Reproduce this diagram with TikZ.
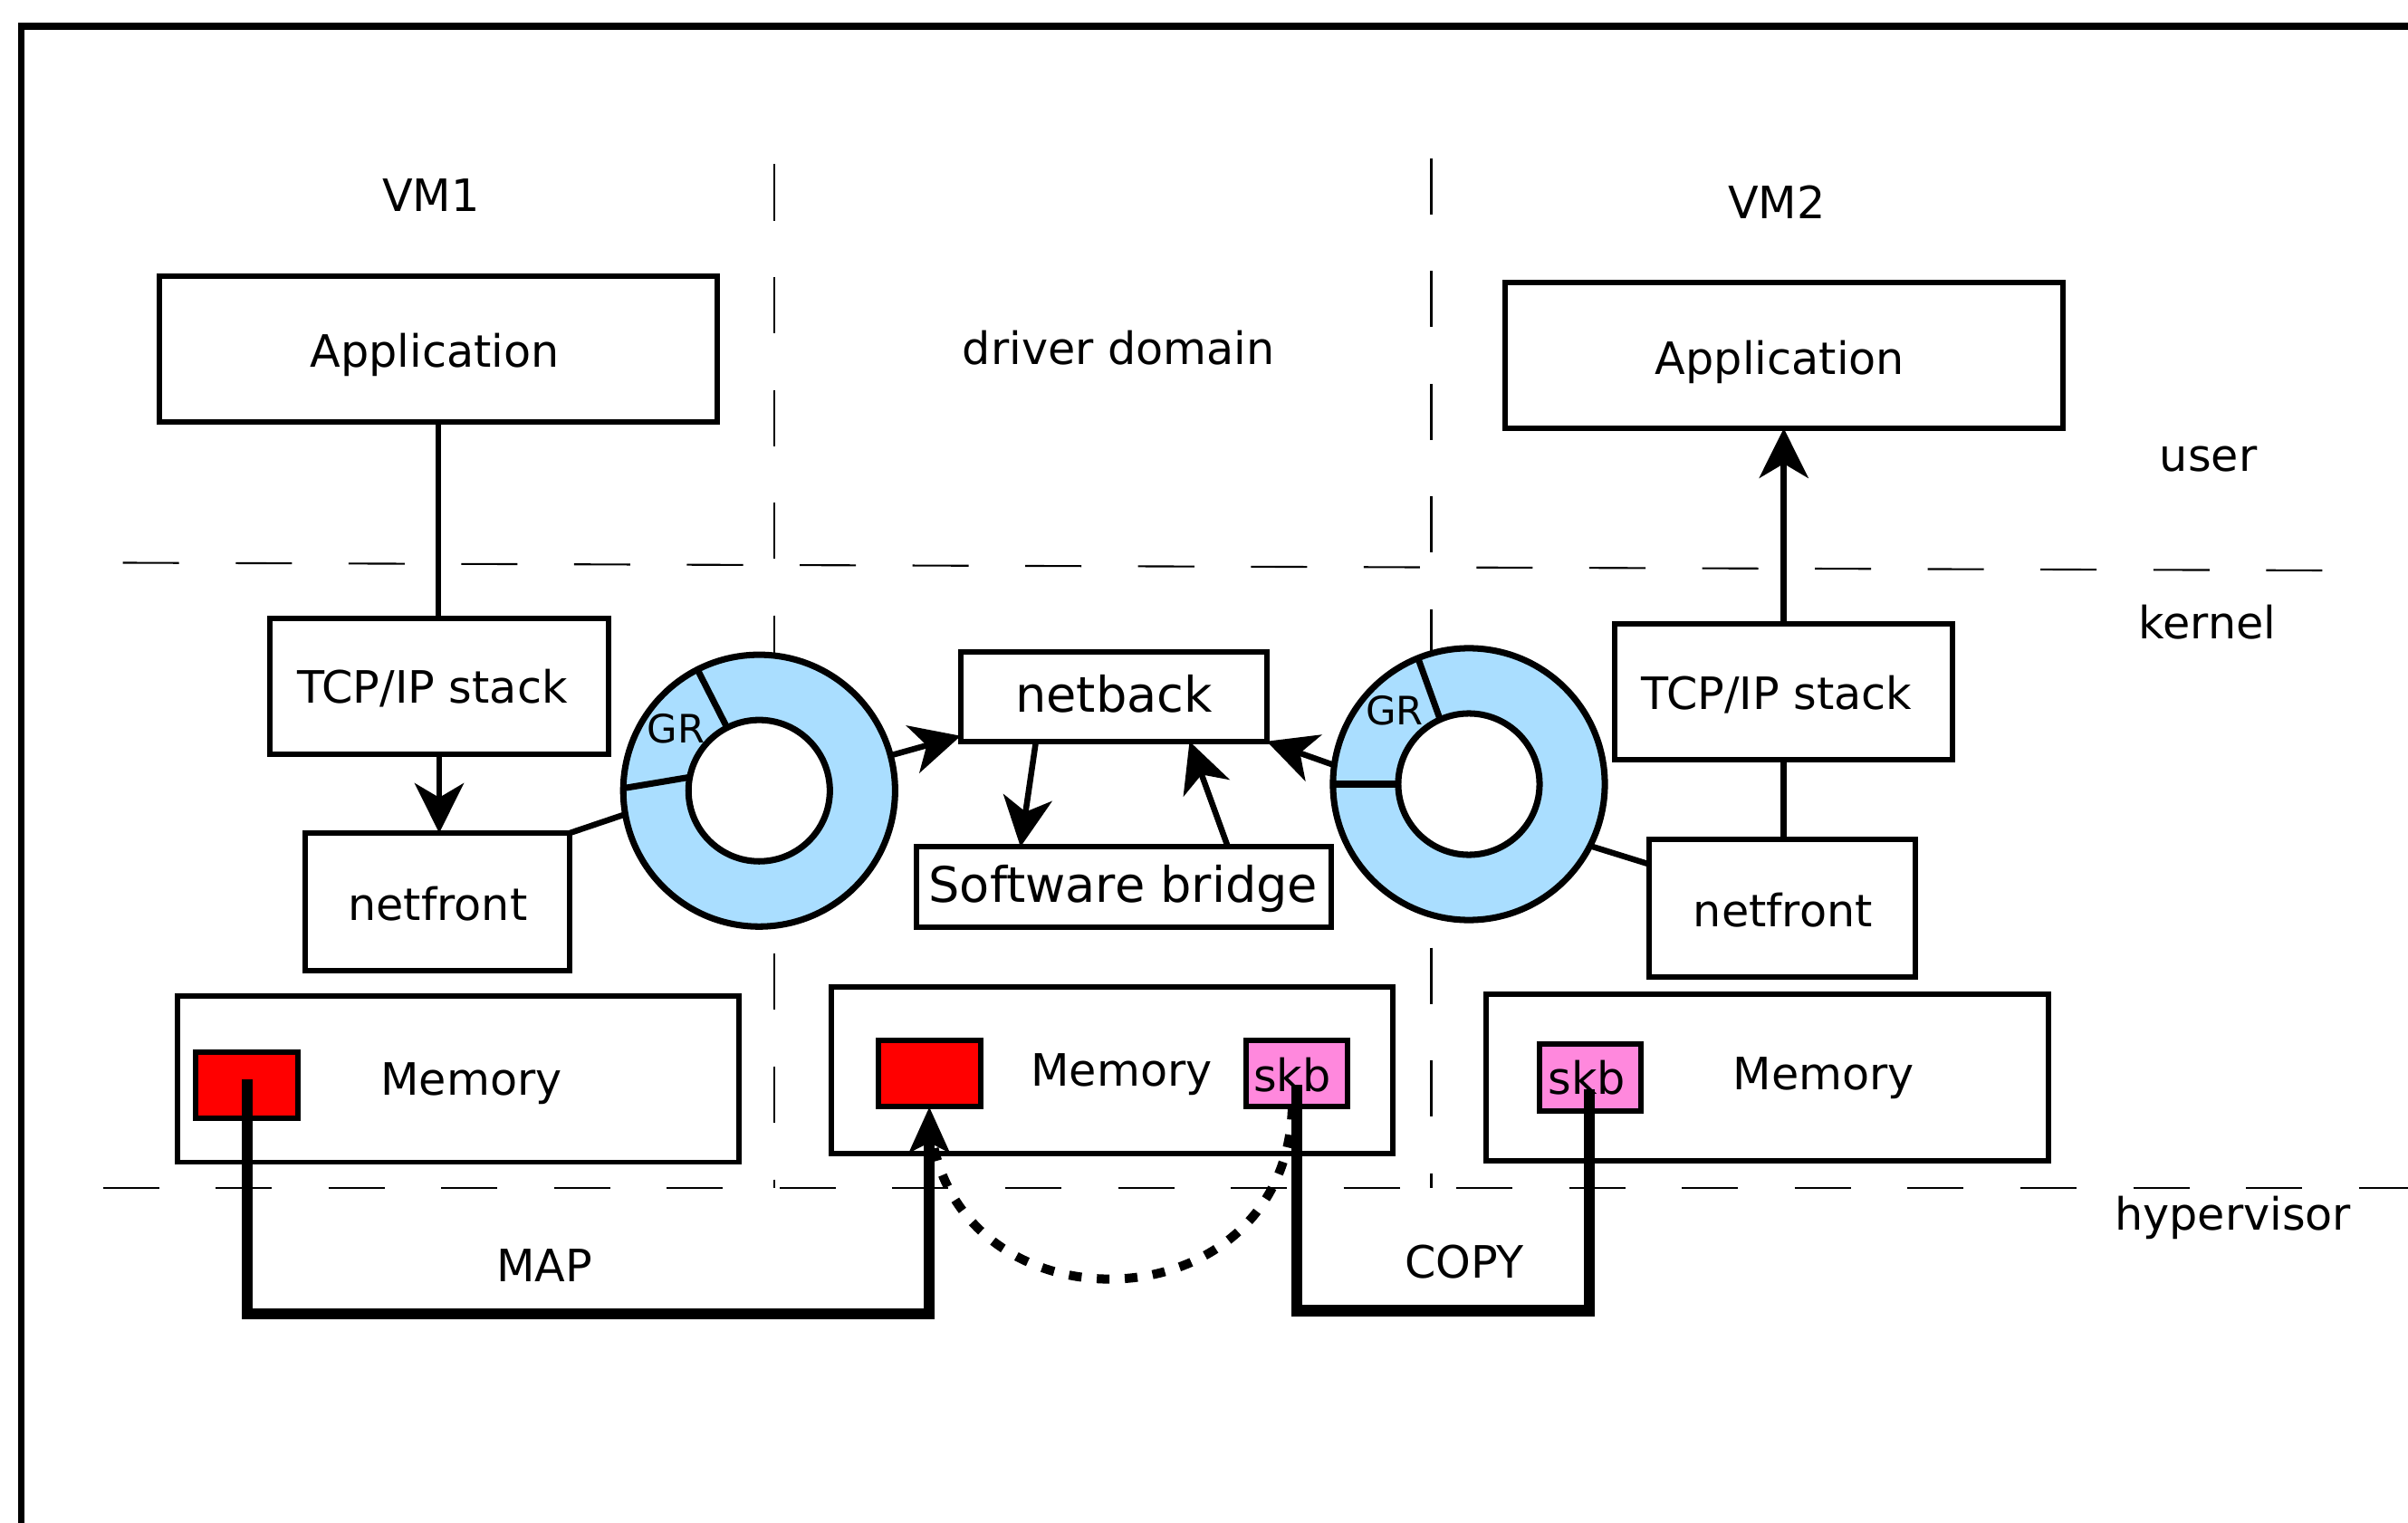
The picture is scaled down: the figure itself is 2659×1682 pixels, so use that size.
\documentclass[tikz,border=0pt]{standalone}
\usepackage{fontspec}
\setmainfont{DejaVu Sans}
\usetikzlibrary{arrows.meta,calc}
\definecolor{ringblue}{HTML}{AADEFF}
\definecolor{skbpink}{HTML}{FF88DD}
\definecolor{pagered}{HTML}{FF0000}
\begin{document}
\begin{tikzpicture}[x=0.01cm,y=-0.01cm,
  every node/.style={font=\fontsize{14}{17}\selectfont, inner sep=0pt, outer sep=0pt},
  box/.style={draw, line width=1.7pt, fill=white},
  txt/.style={anchor=base},
  bigtext/.style={font=\fontsize{15.4}{18}\selectfont},
  grtext/.style={font=\fontsize{12.3}{15}\selectfont, anchor=base},
  ring/.style={circle, draw, line width=2pt, fill=ringblue, minimum size=3cm},
  hole/.style={circle, draw, line width=2pt, fill=white, minimum size=1.56cm},
  redbox/.style={box, fill=pagered, minimum width=1.13cm, minimum height=0.735cm},
  skbbox/.style={box, fill=skbpink, minimum width=1.12cm, minimum height=0.735cm},
  membox/.style={box, minimum width=6.2cm, minimum height=1.835cm},
  conn/.style={line width=1.85pt},
  arr/.style={conn, -{Stealth[length=15.6pt,width=15.4pt,inset=4.5pt]}},
  sep/.style={line width=0.6pt, dash pattern=on 17.64pt off 17.78pt},
  heavy/.style={line width=3.55pt, line join=miter},
  dotcurve/.style={line width=2.85pt, dash pattern=on 4pt off 4.8pt},
]
\useasboundingbox (0,0) rectangle (2659,1682);
\clip (0,0) rectangle (2659,1682);
\fill[white] (0,0) rectangle (2659,1682);

% outer frame (runs off the right and bottom edges)
\draw[line width=2.1pt] (23.5,1800) -- (23.5,29) -- (2800,29);

% layer and domain separators
\draw[sep] (135.7,621.5) -- (2569,630);
\draw[sep] (113.5,1312) -- (2700,1312);
\draw[sep] (855,181.5) -- (855,1312);
\draw[sep] (1580.5,174.7) -- (1580.5,1312);

% domain and layer labels
\node at (476,216) {VM1};
\node at (1962,223) {VM2};
\node at (1235.4,384) {driver domain};
\node at (2438.6,507) {user};
\node at (2437.7,686.8) {kernel};
\node at (2465.7,1344.8) {hypervisor};

% VM1 stack
\node[box, minimum width=6.156cm, minimum height=1.613cm] (appL) at (484.2,385.6) {};
\node[txt] at (480,406) {Application};
\node[box, minimum width=3.734cm, minimum height=1.50cm] (tcpL) at (485,758.3) {};
\node[txt] at (477.5,776.7) {TCP/IP stack};
\node[box, minimum width=2.926cm, minimum height=1.517cm] (nfL) at (483,995.8) {};
\node[txt] at (483.3,1016.7) {netfront};

% VM2 stack
\node[box, minimum width=6.155cm, minimum height=1.61cm] (appR) at (1969.7,392.5) {};
\node[txt] at (1965.4,413) {Application};
\node[box, minimum width=3.727cm, minimum height=1.50cm] (tcpR) at (1969.7,764.3) {};
\node[txt] at (1962,783.3) {TCP/IP stack};
\node[box, minimum width=2.93cm, minimum height=1.52cm] (nfR) at (1968,1002.6) {};
\node[txt] at (1968.8,1023.4) {netfront};

% driver domain
\node[box, minimum width=3.376cm, minimum height=0.99cm] (netback) at (1229.8,769.2) {};
\node[txt, bigtext] at (1230,786) {netback};
\node[box, minimum width=4.58cm, minimum height=0.89cm] (bridge) at (1241,979.8) {};
\node[txt, bigtext] at (1240.4,996.7) {Software bridge};

% shared rings
\node[ring] (ringL) at (838.3,873.2) {};
\node[hole] (holeL) at (838.3,873.2) {};
\draw[line width=2pt] (holeL.117) -- (ringL.117);
\draw[line width=2pt] (holeL.169) -- (ringL.179);
\node[grtext] at (746.7,820) {GR};

\node[ring] (ringR) at (1622,866) {};
\node[hole] (holeR) at (1622,866) {};
\draw[line width=2pt] (holeR.114) -- (ringR.112);
\draw[line width=2pt] (holeR.180) -- (ringR.180);
\node[grtext] at (1540,800) {GR};

% memory areas
\node[membox] (memL) at (506.1,1191.7) {};
\node[txt] at (520.5,1209.3) {Memory};
\node[redbox] (redL) at (272.8,1198.7) {};

\node[membox] (memM) at (1228,1182) {};
\node[txt] at (1238.5,1199.3) {Memory};
\node[redbox] (redM) at (1026.2,1185.7) {};
\node[skbbox] (skbM) at (1432,1185.7) {};
\node[txt] at (1427,1205) {skb};

\node[membox] (memR) at (1951.6,1190.2) {};
\node[txt] at (2014,1203.3) {Memory};
\node[skbbox] (skbR) at (1756,1190) {};
\node[txt] at (1752.5,1208.3) {skb};

% control path connectors
\draw[conn] (appL.south) -- (appL.south |- tcpL.north);
\draw[arr] (tcpL.south) -- (tcpL.south |- nfL.north);
\draw[conn] (nfL.north east) -- (ringL.190.6);
\draw[arr] (ringL.15.6) -- ($(netback.south west)+(0,-6)$);
\draw[arr] ($(netback.south west)+(83,0)$) -- ($(bridge.north west)+(115,0)$);
\draw[arr] ($(bridge.north west)+(344,0)$) -- ($(netback.south west)+(252.6,0)$);
\draw[arr] (ringR.172.7) -- (netback.south east);
\draw[conn] (ringR.333) -- ($(nfR.north west)+(0,28)$);
\draw[conn] (tcpR.south) -- (tcpR.south |- nfR.north);
\draw[arr] (tcpR.north) -- (tcpR.north |- appR.south);

% data path: grant map, copy and the skb hand-over
\draw[dotcurve] ($(skbM.south)+(-5,0)$) .. controls (1420,1476) and (1030,1476) .. (redM.south);

\coordinate (mapStart) at ($(redL.center)+(0,-7)$);
\coordinate (mapY) at (0,1451);
\draw[heavy, -{Stealth[length=14.2pt,width=12.5pt,inset=3pt]}]
  (mapStart) -- (mapStart |- mapY) -| (redM.south);
\node[txt] at (601,1415) {MAP};

\coordinate (copyA) at ($(skbM.center)+(0,12.6)$);
\coordinate (copyB) at ($(skbR.center)+(-1.2,13)$);
\coordinate (copyY) at (0,1447.5);
\draw[heavy] (copyA) -- (copyA |- copyY) -| (copyB);
\node[txt] at (1617,1411.7) {COPY};
\end{tikzpicture}
\end{document}
